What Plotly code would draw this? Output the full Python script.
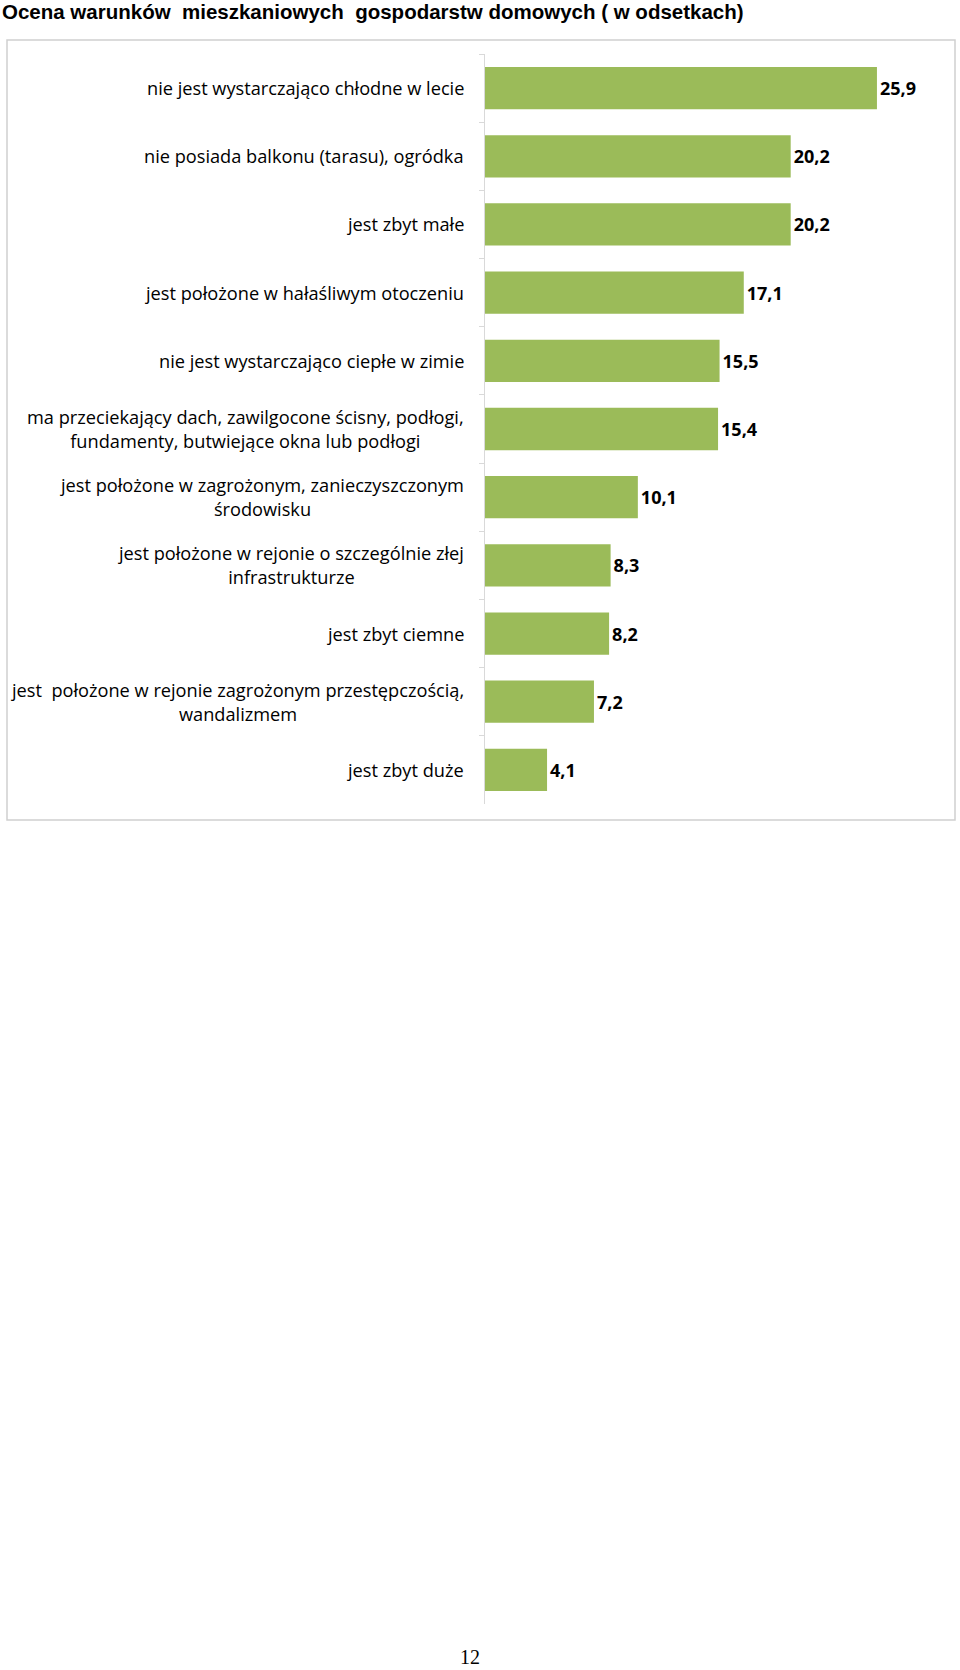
import plotly.graph_objects as go

categories = [
    "nie jest wystarczająco chłodne w lecie",
    "nie posiada balkonu (tarasu), ogródka",
    "jest zbyt małe",
    "jest położone w hałaśliwym otoczeniu",
    "nie jest wystarczająco ciepłe w zimie",
    "ma przeciekający dach, zawilgocone ścisny, podłogi,<br>fundamenty, butwiejące okna lub podłogi",
    "jest położone w zagrożonym, zanieczyszczonym<br>środowisku",
    "jest położone w rejonie o szczególnie złej<br>infrastrukturze",
    "jest zbyt ciemne",
    "jest  położone w rejonie zagrożonym przestępczością,<br>wandalizmem",
    "jest zbyt duże",
]
values = [25.9, 20.2, 20.2, 17.1, 15.5, 15.4, 10.1, 8.3, 8.2, 7.2, 4.1]
value_labels = [f"{v:.1f}".replace(".", ",") for v in values]
title_text = "Ocena warunków  mieszkaniowych  gospodarstw domowych ( w odsetkach)"
page_number = "12"

W, H = 960, 1670
L, R, T, B = 485, 939, 54, 804  # plot area in pixels

def px_x(p):
    return (p - L) / (R - L)

def px_y(p):
    return (B - p) / (B - T)

fig = go.Figure()
fig.add_trace(go.Bar(
    y=categories,
    x=values,
    orientation="h",
    marker=dict(color="#9BBB59", line=dict(width=0)),
    text=value_labels,
    textposition="outside",
    textfont=dict(family="Open Sans", size=18, color="#000000", weight="bold"),
    cliponaxis=False,
    hoverinfo="skip",
))

annotations = []
for c in categories:
    annotations.append(dict(
        x=0, xref="paper", y=c, yref="y",
        text=c, showarrow=False, xanchor="right", yanchor="middle",
        align="center", xshift=-19,
        font=dict(family="Open Sans", size=18.2, color="#000000"),
    ))
annotations.append(dict(
    x=px_x(470), xref="paper", y=px_y(1657), yref="paper",
    text=page_number, showarrow=False, xanchor="center", yanchor="middle",
    font=dict(family="Liberation Serif", size=20, color="#000000"),
))

fig.update_layout(
    width=W, height=H,
    margin=dict(l=L, r=W - R, t=T, b=H - B, pad=0),
    paper_bgcolor="white", plot_bgcolor="white",
    showlegend=False,
    bargap=0.38,
    title=dict(
        text=title_text, x=2 / W, xanchor="left", xref="container",
        y=1 - 12 / H, yanchor="middle", yref="container",
        font=dict(family="Liberation Sans", size=20.5, color="#000000", weight="bold"),
    ),
    xaxis=dict(range=[0, 30], visible=False, fixedrange=True),
    yaxis=dict(
        autorange="reversed", showticklabels=False,
        showline=True, linecolor="#d9d9d9", linewidth=1,
        ticks="outside", ticklen=5, tickcolor="#d9d9d9", tickson="boundaries",
        showgrid=False, zeroline=False,
    ),
    annotations=annotations,
    shapes=[dict(
        type="rect", xref="paper", yref="paper",
        x0=px_x(7), x1=px_x(955), y0=px_y(820), y1=px_y(40),
        line=dict(color="#d0d0d0", width=1.5), fillcolor="rgba(0,0,0,0)",
        layer="below",
    )],
)

fig.write_html("out.html")
